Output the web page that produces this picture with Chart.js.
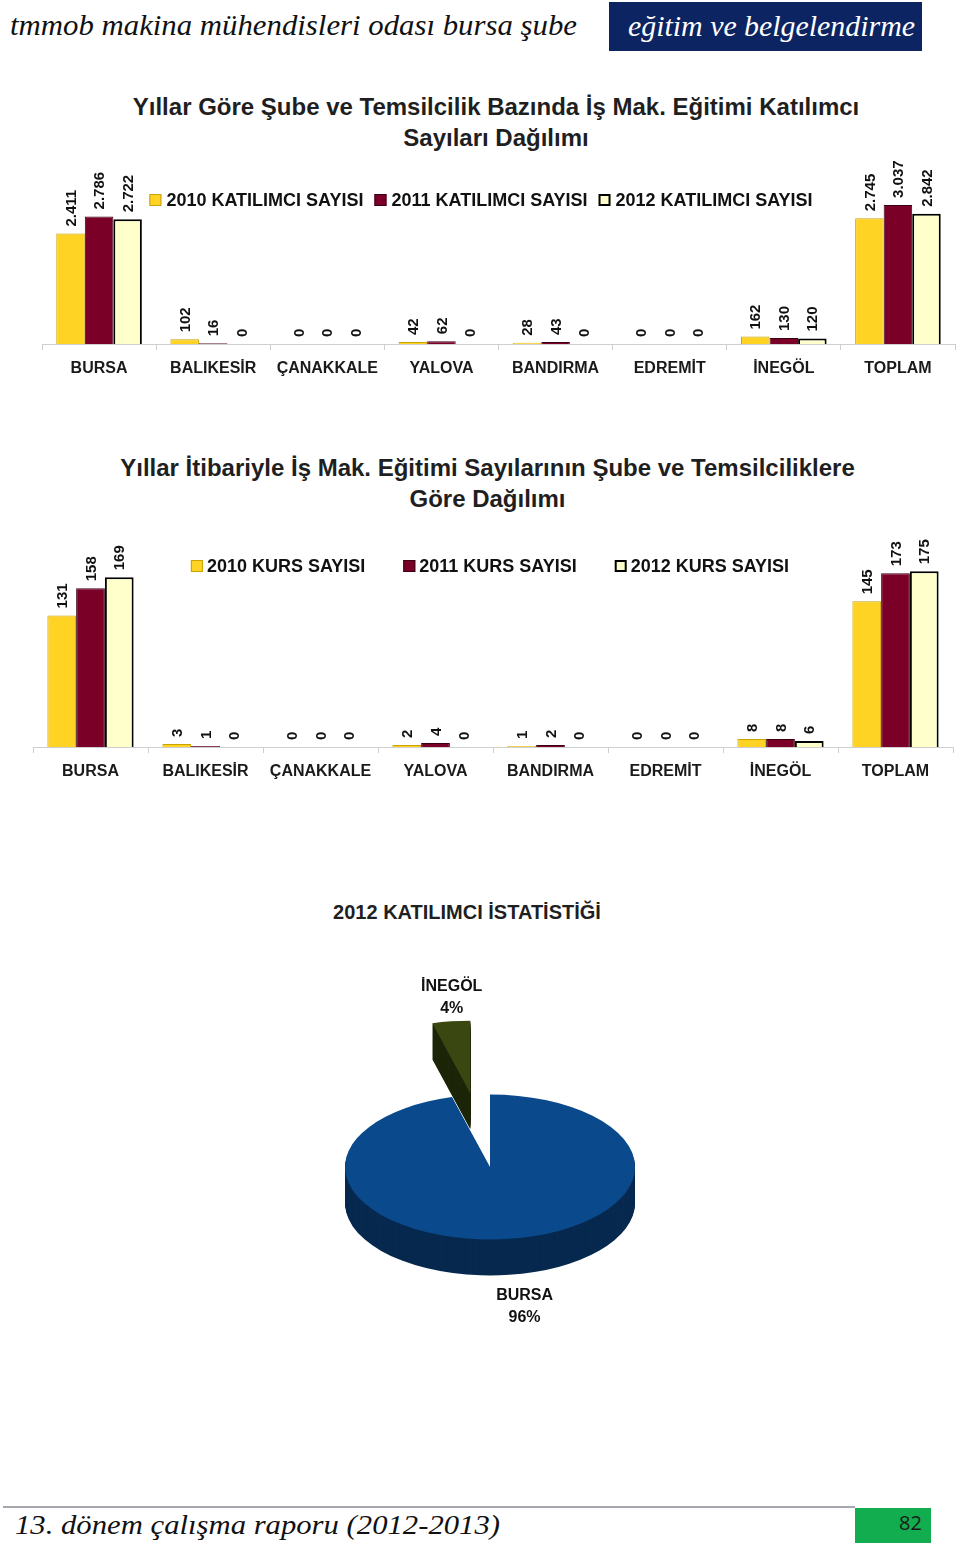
<!DOCTYPE html>
<html><head><meta charset="utf-8">
<script src="https://cdn.jsdelivr.net/npm/chart.js@4"></script>
<style>
html,body{margin:0;padding:0;background:#fff;}
body{width:960px;height:1551px;position:relative;overflow:hidden;font-family:"Liberation Sans",Arial,sans-serif;}
.abs{position:absolute;}
.script{font-family:"Liberation Serif","DejaVu Serif",serif;font-style:italic;white-space:nowrap;transform-origin:left center;line-height:30px;}
.title{font-weight:bold;color:#1f1f1f;text-align:center;font-size:24px;line-height:31px;white-space:nowrap;}
canvas{position:absolute;left:0;}
</style></head>
<body>
<div class="abs script" data-w="567" style="left:10px;top:10px;font-size:30px;color:#111;">tmmob makina mühendisleri odası bursa şube</div>
<div class="abs" style="left:609px;top:2px;width:313px;height:49px;background:#0c2461;"></div>
<div class="abs script" data-w="287" style="left:628px;top:11px;font-size:30px;color:#fff;">eğitim ve belgelendirme</div>

<div class="abs title" style="left:0;width:992px;top:91px;">Yıllar Göre Şube ve Temsilcilik Bazında İş Mak. Eğitimi Katılımcı<br>Sayıları Dağılımı</div>
<canvas id="c1" width="960" height="250" style="top:150px"></canvas>

<div class="abs title" style="left:0;width:975px;top:452px;">Yıllar İtibariyle İş Mak. Eğitimi Sayılarının Şube ve Temsilciliklere<br>Göre Dağılımı</div>
<canvas id="c2" width="960" height="320" style="top:480px"></canvas>

<div class="abs title" style="left:0;width:934px;top:900px;font-size:20px;line-height:24px;">2012 KATILIMCI İSTATİSTİĞİ</div>
<canvas id="c3" width="960" height="420" style="top:940px"></canvas>

<div class="abs" style="left:3px;top:1506px;width:852px;height:2px;background:#a7a7b0;"></div>
<div class="abs" style="left:855px;top:1508px;width:76px;height:35px;background:#12ad4f;"></div>
<div class="abs" style="left:899px;top:1511px;font-family:'Liberation Sans Narrow','Open Sans',sans-serif;font-size:20px;line-height:24px;color:#1a1a1a;">82</div>
<div class="abs script" data-w="485" style="left:15px;top:1510px;font-size:28px;color:#111;">13. dönem çalışma raporu (2012-2013)</div>

<script>
// ---------- DATA ----------
const categories = ['BURSA','BALIKESİR','ÇANAKKALE','YALOVA','BANDIRMA','EDREMİT','İNEGÖL','TOPLAM'];
const katilimci2010 = [2411, 102, 0, 42, 28, 0, 162, 2745];
const katilimci2011 = [2786, 16, 0, 62, 43, 0, 130, 3037];
const katilimci2012 = [2722, 0, 0, 0, 0, 0, 120, 2842];
const katilimciNames = ['2010 KATILIMCI SAYISI','2011 KATILIMCI SAYISI','2012 KATILIMCI SAYISI'];

const kurs2010 = [131, 3, 0, 2, 1, 0, 8, 145];
const kurs2011 = [158, 1, 0, 4, 2, 0, 8, 173];
const kurs2012 = [169, 0, 0, 0, 0, 0, 6, 175];
const kursNames = ['2010 KURS SAYISI','2011 KURS SAYISI','2012 KURS SAYISI'];

const pieLabels = ['BURSA','BALIKESİR','ÇANAKKALE','YALOVA','BANDIRMA','EDREMİT','İNEGÖL'];
const pieValues = [2722, 0, 0, 0, 0, 0, 120];

// ---------- STYLE ----------
const FONT = '"Liberation Sans", Arial, sans-serif';
const seriesStyle = [
  {backgroundColor:'#FFD324', borderColor:'#C9A200', borderWidth:1},
  {backgroundColor:'#7B0028', borderColor:'#3a0012', borderWidth:1},
  {backgroundColor:'#FFFFCC', borderColor:'#000000', borderWidth:2}
];
const fmt = v => String(v).replace(/\B(?=(\d{3})+(?!\d))/g, '.');

// fit script text widths
document.querySelectorAll('[data-w]').forEach(el => {
  const w = el.getBoundingClientRect().width;
  el.style.transform = 'scaleX(' + (el.dataset.w / w) + ')';
});

const barLabels = {
  id: 'barLabels',
  afterDatasetsDraw(chart) {
    const ctx = chart.ctx;
    ctx.save();
    ctx.font = 'bold 15px ' + FONT;
    ctx.fillStyle = '#111';
    ctx.textAlign = 'left';
    ctx.textBaseline = 'middle';
    chart.data.datasets.forEach((ds, di) => {
      chart.getDatasetMeta(di).data.forEach((bar, i) => {
        ctx.save();
        ctx.translate(bar.x + 1, bar.y - 7);
        ctx.rotate(-Math.PI / 2);
        ctx.fillText(fmt(ds.data[i]), 0, 0);
        ctx.restore();
      });
    });
    ctx.restore();
  }
};

// single-row legend drawn inside the plot (like the original)
const boxLegend = {
  id: 'boxLegend',
  afterDatasetsDraw(chart, args, o) {
    const ctx = chart.ctx;
    ctx.save();
    ctx.font = 'bold 18px ' + FONT;
    const B = 12;
    const items = chart.data.datasets.map(ds => ({ds, w: B + o.boxGap + ctx.measureText(ds.label).width}));
    const total = items.reduce((a, it) => a + it.w, 0) + o.itemGap * (items.length - 1);
    let x = o.centerX - total / 2;
    ctx.textBaseline = 'middle'; ctx.textAlign = 'left';
    items.forEach(it => {
      const ds = it.ds, bw = ds.borderWidth;
      ctx.fillStyle = ds.backgroundColor;
      ctx.fillRect(x, o.y - B / 2, B, B);
      ctx.lineWidth = bw; ctx.strokeStyle = ds.borderColor;
      ctx.strokeRect(x + bw / 2, o.y - B / 2 + bw / 2, B - bw, B - bw);
      ctx.fillStyle = '#111';
      ctx.fillText(ds.label, x + B + o.boxGap, o.y + 1);
      x += it.w + o.itemGap;
    });
    ctx.restore();
  }
};

function barChart(id, seriesArr, names, yMax, pad, legendOpts) {
  return new Chart(document.getElementById(id), {
    type: 'bar',
    data: {
      labels: categories,
      datasets: seriesArr.map((d, i) => Object.assign({label: names[i], data: d}, seriesStyle[i]))
    },
    options: {
      responsive: false, animation: false, events: [],
      layout: {padding: pad},
      datasets: {bar: {categoryPercentage: 0.75, barPercentage: 1.0}},
      plugins: {
        legend: {display: false},
        tooltip: {enabled: false},
        boxLegend: legendOpts
      },
      scales: {
        x: {
          grid: {display: true, drawOnChartArea: false, drawTicks: true, tickLength: 6, color: '#cfcfcf', offset: true},
          border: {display: true, color: '#cfcfcf'},
          ticks: {color: '#1a1a1a', padding: 9, font: {family: FONT, size: 16, weight: 'bold'}, maxRotation: 0},
          afterFit(scale) { scale.height = 50; }
        },
        y: {display: false, min: 0, max: yMax}
      }
    },
    plugins: [barLabels, boxLegend]
  });
}

barChart('c1', [katilimci2010, katilimci2011, katilimci2012], katilimciNames, 3581,
         {left: 42, right: 5, top: 30, bottom: 6}, {centerX: 481, y: 50, boxGap: 5, itemGap: 11});
barChart('c2', [kurs2010, kurs2011, kurs2012], kursNames, 227,
         {left: 33, right: 7, top: 39, bottom: 3}, {centerX: 490, y: 86, boxGap: 4, itemGap: 38});

// ---------- 3D PIE ----------
const pie3d = {
  id: 'pie3d',
  beforeDatasetsDraw(chart, args, o) {
    const ctx = chart.ctx, meta = chart.getDatasetMeta(0);
    const cy = (chart.chartArea.top + chart.chartArea.bottom) / 2;
    meta.data.forEach((arc, i) => {
      arc._home = [arc.x, arc.y];
      const e = o.explode[chart.data.labels[i]] || 0;
      if (e) {
        const m = (arc.startAngle + arc.endAngle) / 2;
        arc.x += Math.cos(m) * e; arc.y += Math.sin(m) * e;
      }
    });
    ctx.save();
    ctx.translate(0, cy); ctx.scale(1, o.tilt); ctx.translate(0, -cy);
    for (let d = o.depth; d >= 1; d--) {
      meta.data.forEach((arc, i) => {
        if (!arc.circumference) return;
        const saved = arc.options;
        arc.options = Object.assign({}, saved, {backgroundColor: o.sideColors[i], borderWidth: 0});
        ctx.save(); ctx.translate(0, d / o.tilt); arc.draw(ctx); ctx.restore();
        arc.options = saved;
      });
    }
  },
  afterDatasetsDraw(chart, args, o) {
    const ctx = chart.ctx, meta = chart.getDatasetMeta(0);
    ctx.restore();
    const cy = (chart.chartArea.top + chart.chartArea.bottom) / 2;
    const vals = chart.data.datasets[0].data;
    const total = vals.reduce((a, b) => a + b, 0);
    ctx.save();
    ctx.font = 'bold 16px ' + FONT;
    ctx.fillStyle = '#111';
    ctx.textAlign = 'center'; ctx.textBaseline = 'middle';
    meta.data.forEach((arc, i) => {
      if (!vals[i]) return;
      const m = (arc.startAngle + arc.endAngle) / 2;
      const dist = arc.outerRadius + o.labelPad;
      const sx = arc.x + Math.cos(m) * dist + o.labelShiftX;
      const sy = cy + (arc.y - cy) * o.tilt + Math.sin(m) * dist * o.tilt + Math.max(0, Math.sin(m)) * o.depth + o.labelShiftY;
      ctx.fillText(chart.data.labels[i], sx, sy - 11);
      ctx.fillText(Math.round(vals[i] / total * 100) + '%', sx, sy + 11);
      arc.x = arc._home[0]; arc.y = arc._home[1];
    });
    ctx.restore();
  }
};

new Chart(document.getElementById('c3'), {
  type: 'pie',
  data: {
    labels: pieLabels,
    datasets: [{
      data: pieValues,
      backgroundColor: ['#0a4a8c','#8b2a0c','#8b2a0c','#8b2a0c','#8b2a0c','#8b2a0c','#3a4710'],
      borderWidth: 0, radius: 145, clip: false
    }]
  },
  options: {
    responsive: false, animation: false, events: [],
    layout: {padding: {left: 20, right: 0, top: 34, bottom: 0}},
    plugins: {
      legend: {display: false}, tooltip: {enabled: false},
      pie3d: {tilt: 0.5, depth: 36, labelPad: 56, labelShiftX: 8, labelShiftY: 4, explode: {'İNEGÖL': 149},
              sideColors: ['#07294f','#5a1a06','#5a1a06','#5a1a06','#5a1a06','#5a1a06','#1c2508']}
    }
  },
  plugins: [pie3d]
});
</script>
</body></html>
